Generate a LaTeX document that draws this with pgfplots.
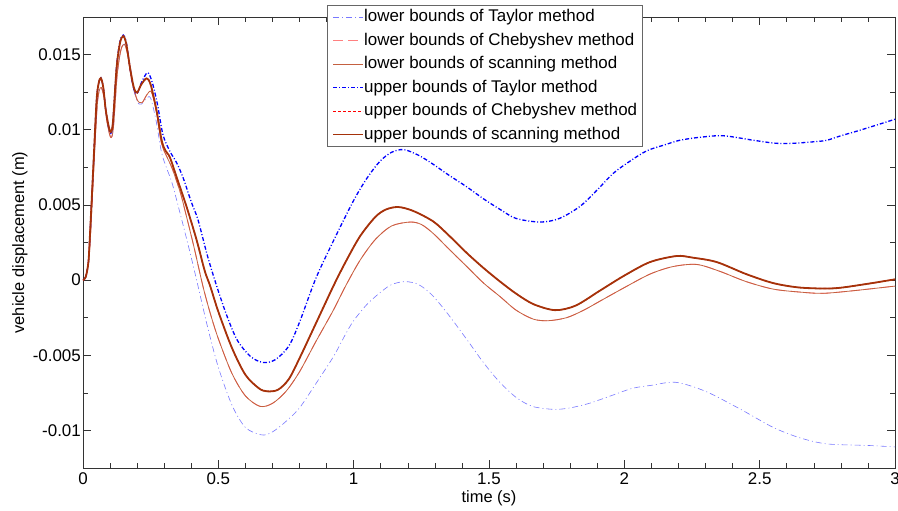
\documentclass[border=0pt]{standalone}
\usepackage{pgfplots}
\pgfplotsset{compat=1.18}
\usepackage{pgfplotstable}
\usepackage{fontspec}
\setmainfont{Liberation Sans}

% displacement bounds (m) against time (s)
\pgfplotstableread{
t y
0 0
0.01 0.0002
0.02 0.0011
0.028 0.0031
0.04 0.0075
0.052 0.0115
0.06 0.0126
0.068 0.0128
0.078 0.0121
0.088 0.0106
0.102 0.0095
0.112 0.0101
0.126 0.0136
0.14 0.0153
0.153 0.0157
0.165 0.0150
0.18 0.0132
0.2 0.0119
0.215 0.0117
0.235 0.0121
0.25 0.0121
0.27 0.0106
0.29 0.0085
0.31 0.0074
0.33 0.0064
0.365 0.0040
0.40 0.0015
0.425 -0.0004
0.46 -0.0031
0.5 -0.0058
0.55 -0.0083
0.6 -0.0098
0.66 -0.0103
0.7 -0.0101
0.75 -0.0094
0.8 -0.0085
0.86 -0.0069
0.925 -0.0051
0.97 -0.0036
1.0 -0.0027
1.05 -0.0016
1.1 -0.0008
1.14 -0.0003
1.19 -0.0001
1.24 -0.0003
1.29 -0.0010
1.35 -0.0023
1.42 -0.0040
1.48 -0.0055
1.54 -0.0068
1.6 -0.0078
1.66 -0.0084
1.74 -0.0086
1.8 -0.0085
1.87 -0.0082
1.95 -0.0077
2.03 -0.0072
2.1 -0.0070
2.19 -0.0068
2.3 -0.0074
2.43 -0.0086
2.55 -0.0098
2.65 -0.0105
2.75 -0.0109
2.9 -0.0110
3.0 -0.0111
}\lowerTaylor

\pgfplotstableread{
t y
0 0
0.01 0.0002
0.02 0.0011
0.028 0.0031
0.04 0.0075
0.052 0.0115
0.06 0.0126
0.068 0.0128
0.078 0.0121
0.088 0.0106
0.102 0.0095
0.112 0.0101
0.126 0.0136
0.14 0.0153
0.153 0.01568
0.165 0.0150
0.18 0.0133
0.2 0.0120
0.218 0.0118
0.235 0.0123
0.252 0.01254
0.27 0.0113
0.29 0.0091
0.31 0.0082
0.33 0.0074
0.36 0.0058
0.38 0.0044
0.41 0.0022
0.443 -0.0004
0.47 -0.0022
0.5 -0.0039
0.55 -0.0062
0.6 -0.0077
0.654 -0.0084
0.7 -0.0082
0.75 -0.0074
0.8 -0.0061
0.86 -0.0041
0.925 -0.0020
0.97 -0.0004
1.023 0.0013
1.08 0.0027
1.14 0.0036
1.208 0.00386
1.25 0.0037
1.294 0.0031
1.35 0.0021
1.418 0.0009
1.48 -0.0002
1.541 -0.0011
1.6 -0.0020
1.664 -0.0026
1.72 -0.0027
1.787 -0.0025
1.85 -0.0020
1.91 -0.0014
2.0 -0.0005
2.095 0.0004
2.18 0.0009
2.267 0.00104
2.35 0.0006
2.45 -0.0001
2.55 -0.0006
2.65 -0.0008
2.735 -0.00088
2.85 -0.0007
3.0 -0.0004
}\lowerScan

\pgfplotstableread{
t y
0 0
0.01 0.0002
0.02 0.0012
0.026 0.0031
0.038 0.0075
0.05 0.0119
0.058 0.0131
0.066 0.01345
0.075 0.0128
0.085 0.0112
0.1 0.0098
0.11 0.0104
0.124 0.0142
0.137 0.0159
0.149 0.0163
0.16 0.0158
0.174 0.0141
0.188 0.0127
0.2 0.0124
0.215 0.0131
0.238 0.0138
0.255 0.0132
0.275 0.0117
0.295 0.0097
0.32 0.0086
0.346 0.0078
0.37 0.0068
0.40 0.0052
0.425 0.0040
0.46 0.0016
0.494 -0.0004
0.53 -0.0023
0.57 -0.0040
0.62 -0.0051
0.666 -0.00548
0.71 -0.0053
0.76 -0.0044
0.8 -0.0028
0.86 0.0001
0.925 0.0026
1.0 0.0053
1.05 0.0068
1.097 0.0079
1.14 0.0085
1.185 0.00868
1.24 0.0083
1.294 0.0077
1.35 0.0070
1.418 0.0062
1.48 0.0054
1.541 0.0047
1.6 0.0041
1.69 0.00386
1.76 0.0041
1.836 0.0049
1.9 0.0060
1.959 0.0071
2.02 0.0079
2.083 0.0086
2.15 0.0090
2.205 0.0093
2.28 0.0095
2.366 0.0096
2.477 0.0093
2.56 0.0091
2.624 0.0091
2.7 0.0092
2.748 0.0093
2.8 0.0096
2.858 0.0099
2.93 0.0103
3.0 0.0107
}\upperTaylor

\pgfplotstableread{
t y
0 0
0.01 0.0002
0.02 0.0012
0.026 0.0031
0.038 0.0075
0.05 0.0119
0.058 0.0131
0.066 0.01344
0.075 0.0128
0.085 0.0112
0.1 0.0099
0.11 0.0104
0.124 0.0141
0.137 0.0158
0.149 0.01623
0.16 0.0157
0.174 0.0141
0.188 0.0128
0.2 0.01247
0.215 0.0130
0.235 0.01342
0.25 0.0130
0.272 0.01126
0.291 0.00927
0.305 0.0086
0.321 0.00817
0.346 0.00684
0.383 0.00486
0.42 0.00265
0.45 0.0006
0.47 -0.0004
0.5 -0.0021
0.55 -0.0045
0.6 -0.0063
0.65 -0.0072
0.68 -0.0074
0.72 -0.0073
0.76 -0.0066
0.8 -0.0052
0.86 -0.0029
0.925 -0.0004
0.97 0.0012
1.023 0.0029
1.08 0.0042
1.12 0.0047
1.165 0.00486
1.22 0.0046
1.294 0.0039
1.35 0.0030
1.418 0.0018
1.48 0.0008
1.541 -0.0001
1.6 -0.0009
1.664 -0.0016
1.744 -0.0020
1.82 -0.0017
1.91 -0.0007
2.0 0.0003
2.095 0.0012
2.193 0.0016
2.25 0.0015
2.341 0.0012
2.45 0.0004
2.55 -0.0002
2.65 -0.0005
2.772 -0.00055
2.88 -0.0003
3.0 0.00005
}\upperScan

\definecolor{ltaylor}{RGB}{120,120,255}
\definecolor{lcheb}{RGB}{255,128,128}
\definecolor{lscan}{RGB}{196,96,64}
\definecolor{utaylor}{RGB}{0,0,255}
\definecolor{ucheb}{RGB}{255,0,0}
\definecolor{uscan}{RGB}{165,50,10}

\begin{document}
\begin{tikzpicture}
\useasboundingbox (-83bp,-43bp) rectangle (815bp,468bp);
\begin{axis}[
  at={(0,0)}, anchor=south west,
  scale only axis, width=812bp, height=451bp,
  xmin=0, xmax=3, ymin=-0.0125, ymax=0.0175,
  scaled x ticks=false, scaled y ticks=false,
  xtick={0,0.5,1,1.5,2,2.5,3},
  xticklabels={0,0.5,1,1.5,2,2.5,3},
  ytick={-0.01,-0.005,0,0.005,0.01,0.015},
  yticklabels={-0.01,-0.005,0,0.005,0.01,0.015},
  minor x tick num=4, minor y tick num=1,
  tick align=inside, tick pos=both,
  major tick length=8bp, minor tick length=5bp,
  every tick/.style={black!80, line width=0.6bp},
  axis line style={black!80, line width=0.7bp},
  font=\fontsize{17}{20}\selectfont,
  yticklabel style={inner xsep=2bp},
  xticklabel style={yshift=-1.5bp},
  xlabel={time (s)},
  ylabel={vehicle displacement (m)},
  label style={font=\fontsize{16.5}{19}\selectfont},
  xlabel style={at={(axis description cs:0.5,-0.067)}, anchor=center},
  ylabel style={at={(axis description cs:-0.0776,0.5)}, anchor=center},
  legend cell align=left,
  legend image code/.code={\draw[#1] (0bp,0bp) -- (30bp,0bp);},
  legend style={at={(rel axis cs:0.3005,1.0266)}, anchor=north west,
    draw=black!60, line width=0.6bp, fill=white,
    inner xsep=5bp, inner ysep=3.25bp, row sep=6.5bp,
    nodes={inner sep=0bp, text height=13bp, text depth=4bp},
    /tikz/every even column/.append style={column sep=4.7bp},
    font=\fontsize{17}{20}\selectfont},
]
\addplot[color=ltaylor, line width=0.6bp, smooth, dash pattern=on 6bp off 3bp on 1bp off 3bp] table[x=t,y=y] {\lowerTaylor};
\addlegendentry{lower bounds of Taylor method}
\addplot[color=lcheb, line width=0.9bp, smooth, dash pattern=on 10bp off 5bp] table[x=t,y=y] {\lowerScan};
\addlegendentry{lower bounds of Chebyshev method}
\addplot[color=lscan, line width=0.8bp, smooth] table[x=t,y=y] {\lowerScan};
\addlegendentry{lower bounds of scanning method}
\addplot[color=utaylor, line width=1.3bp, smooth, dash pattern=on 4bp off 2bp on 1bp off 2bp] table[x=t,y=y] {\upperTaylor};
\addlegendentry{upper bounds of Taylor method}
\addplot[color=ucheb, line width=1.1bp, smooth, dash pattern=on 3bp off 2bp] table[x=t,y=y] {\upperScan};
\addlegendentry{upper bounds of Chebyshev method}
\addplot[color=uscan, line width=1.8bp, smooth] table[x=t,y=y] {\upperScan};
\addlegendentry{upper bounds of scanning method}
\end{axis}
\end{tikzpicture}
\end{document}
